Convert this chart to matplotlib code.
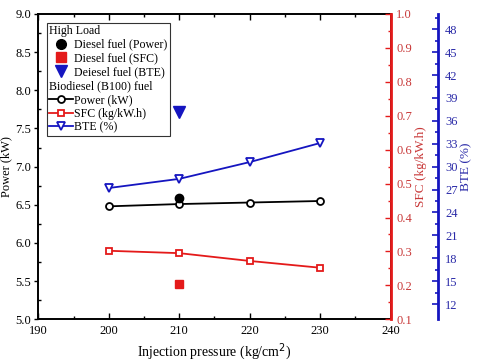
import matplotlib
matplotlib.use("Agg")
import matplotlib.pyplot as plt
from matplotlib.lines import Line2D
from matplotlib.ticker import MultipleLocator

plt.rcParams['font.family'] = ['Liberation Serif', 'DejaVu Serif']

pressure = [200, 210, 220, 230]
power_bio = [6.48, 6.51, 6.53, 6.55]
sfc_bio = [0.302, 0.295, 0.272, 0.252]
bte_bio = [27.2, 28.4, 30.6, 33.1]

diesel_pressure = [210]
power_diesel = [6.59]
sfc_diesel = [0.204]
bte_diesel = [37.2]

RED = '#e41a1a'
BLUE = '#1515c0'
RED_TXT = '#c83838'
BLUE_TXT = '#2a2aa8'

fig = plt.figure(figsize=(4.8, 3.64), dpi=100)
ax = fig.add_axes([38.3/480, 1-319.3/364, (390.7-38.3)/480, (319.3-14)/364])
ax2 = ax.twinx()
ax3 = ax.twinx()
ax3.spines['right'].set_position(('axes', (438-38.3)/352.4))

ax.plot(pressure, power_bio, '-o', color='black', mfc='white', mec='black', ms=5, mew=1.3, lw=1.3, zorder=3)
ax.plot(diesel_pressure, power_diesel, 'o', color='black', ms=6, zorder=3)
ax2.plot(pressure, sfc_bio, '-s', color=RED, mfc='white', mec=RED, ms=5, mew=1.3, lw=1.3)
ax2.plot(diesel_pressure, sfc_diesel, 's', color=RED, ms=6)
ax3.plot(pressure, bte_bio, '-v', color=BLUE, mfc='white', mec=BLUE, ms=6, mew=1.3, lw=1.3)
ax3.plot(diesel_pressure, bte_diesel, 'v', color=BLUE, ms=8)

ax.set_xlim(190, 240)
ax.set_ylim(5.0, 9.0)
ax2.set_ylim(0.1, 1.0)
ax3.set_ylim(10, 50)

ax.xaxis.set_major_locator(MultipleLocator(10))
ax.xaxis.set_minor_locator(MultipleLocator(5))
ax.yaxis.set_major_locator(MultipleLocator(0.5))
ax.yaxis.set_minor_locator(MultipleLocator(0.25))
ax2.yaxis.set_major_locator(MultipleLocator(0.1))
ax2.yaxis.set_minor_locator(MultipleLocator(0.05))
ax3.set_yticks([12, 15, 18, 21, 24, 27, 30, 33, 36, 39, 42, 45, 48])
ax3.set_yticks([13.5, 16.5, 19.5, 22.5, 25.5, 28.5, 31.5, 34.5, 37.5, 40.5, 43.5, 46.5, 49.5], minor=True)

ax.set_xticklabels([f'{int(v)}' for v in ax.get_xticks()])
ax.set_yticklabels([f'{v:.1f}' for v in ax.get_yticks()])
ax2.set_yticklabels([f'{v:.1f}' for v in ax2.get_yticks()])

fs = 9
ax.tick_params(axis='x', which='both', direction='in', top=True, labelsize=fs, pad=4)
ax.tick_params(axis='x', which='major', length=4, width=1)
ax.tick_params(axis='x', which='minor', length=2, width=1)
ax.tick_params(axis='y', which='major', direction='out', length=3, width=1, labelsize=fs, pad=2)
ax.tick_params(axis='y', which='minor', direction='in', length=2, width=1)

ax2.tick_params(axis='y', which='both', direction='in', colors=RED, labelcolor=RED_TXT, labelsize=fs, width=1, pad=4)
ax2.tick_params(axis='y', which='major', length=4)
ax2.tick_params(axis='y', which='minor', length=2)
ax3.tick_params(axis='y', which='both', direction='in', colors=BLUE, labelcolor=BLUE_TXT, labelsize=fs, width=1.2, pad=5)
ax3.tick_params(axis='y', which='major', length=4)
ax3.tick_params(axis='y', which='minor', length=2.5)

for a in (ax, ax2, ax3):
    for s in a.spines.values():
        s.set_linewidth(1.4)
ax2.spines['right'].set_color(RED)
ax2.spines['right'].set_linewidth(2)
ax3.spines['right'].set_color(BLUE)
ax3.spines['right'].set_linewidth(2)
ax3.spines['right'].set_bounds(10, 50)
for a in (ax2, ax3):
    a.spines['top'].set_visible(False)
    a.spines['left'].set_visible(False)
    a.spines['bottom'].set_visible(False)

ax.set_xlabel('Injection pressure (kg/cm$^2$)', fontsize=10, labelpad=3)
ax.set_ylabel('Power (kW)', fontsize=9, labelpad=2)
ax2.set_ylabel('SFC (kg/kW.h)', fontsize=9.5, color=RED_TXT, labelpad=2)
ax3.set_ylabel('BTE (%)', fontsize=9.5, color=BLUE_TXT, labelpad=2)

blank = Line2D([], [], linestyle='none')
handles = [
    blank,
    Line2D([], [], linestyle='none', marker='o', color='black', ms=7),
    Line2D([], [], linestyle='none', marker='s', color=RED, ms=6.5),
    Line2D([], [], linestyle='none', marker='v', color=BLUE, ms=8),
    blank,
    Line2D([], [], linestyle='-', marker='o', color='black', mfc='white', ms=5, mew=1.3, lw=1.3),
    Line2D([], [], linestyle='-', marker='s', color=RED, mfc='white', ms=5, mew=1.3, lw=1.3),
    Line2D([], [], linestyle='-', marker='v', color=BLUE, mfc='white', ms=6, mew=1.3, lw=1.3),
]
labels = ['High Load', 'Diesel fuel (Power)', 'Diesel fuel (SFC)', 'Deiesel fuel (BTE)',
          'Biodiesel (B100) fuel', 'Power (kW)', 'SFC (kg/kW.h)', 'BTE (%)']
leg = ax3.legend(handles, labels, loc='upper left', bbox_to_anchor=(0.024, 0.972),
                 fontsize=8.6, frameon=True, fancybox=False, handlelength=2.0,
                 handletextpad=0.1, labelspacing=0.15, borderpad=0.2, borderaxespad=0)
leg.get_frame().set_edgecolor('black')
leg.get_frame().set_linewidth(0.8)
for vp in leg._legend_handle_box.get_children():
    for hp in vp.get_children():
        kids = hp.get_children()
        txt = kids[1].get_children()[0].get_text() if len(kids) > 1 else ''
        if txt in ('High Load', 'Biodiesel (B100) fuel'):
            hp._children = [kids[1]]

fig.savefig('out.png', dpi=100)
